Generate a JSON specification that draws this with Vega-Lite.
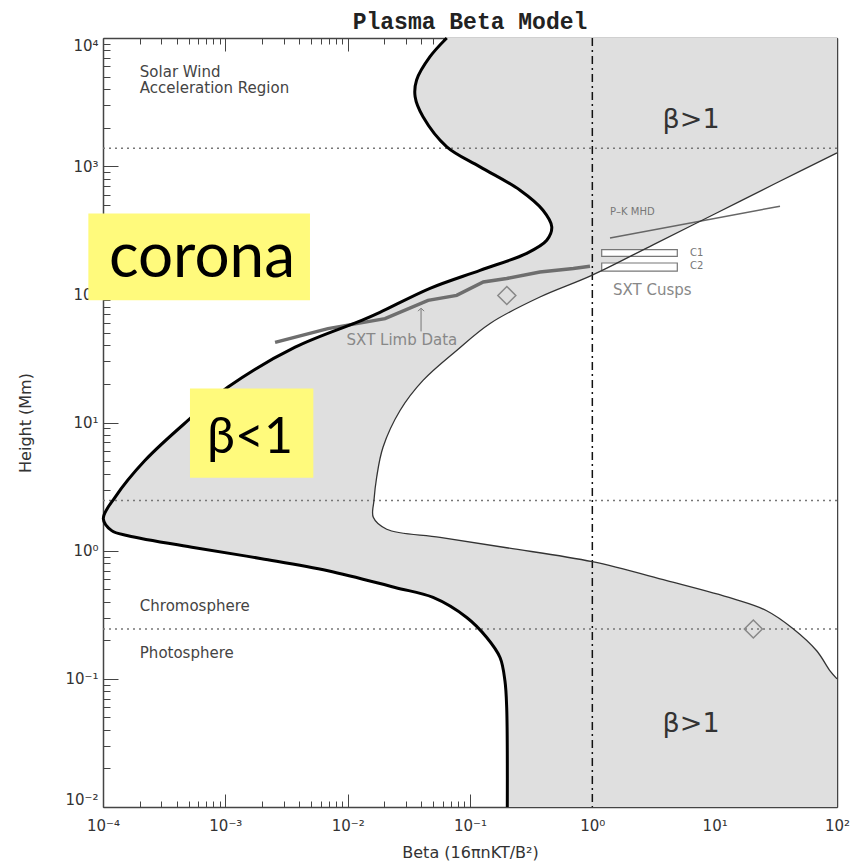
{
  "$schema": "https://vega.github.io/schema/vega-lite/v6.json",
  "width": 734,
  "height": 769,
  "autosize": "none",
  "padding": {"left": 103, "top": 38, "right": 20, "bottom": 54},
  "background": "white",
  "title": {"text": "Plasma Beta Model", "font": "Liberation Mono", "fontSize": 23, "fontWeight": "bold", "color": "#222", "offset": -2, "anchor": "middle"},
  "config": {
    "view": {"stroke": null},
    "axis": {"domain": false, "grid": false, "tickColor": "#444", "tickWidth": 1, "labelFont": "DejaVu Sans", "labelFontSize": 15, "labelColor": "#333", "titleFont": "DejaVu Sans", "titleFontSize": 16, "titleColor": "#333", "titleFontWeight": "normal", "zindex": 1, "labelFlush": false, "labelOverlap": false}
  },
  "datasets": {
    "thick": [
      {"h": 10000, "b": 0.0646}, {"h": 7145, "b": 0.0471}, {"h": 4696, "b": 0.0366}, {"h": 3475, "b": 0.0356},
      {"h": 2427, "b": 0.0413}, {"h": 1416, "b": 0.0646}, {"h": 988, "b": 0.1208}, {"h": 649, "b": 0.2565},
      {"h": 453, "b": 0.395}, {"h": 336, "b": 0.466}, {"h": 264, "b": 0.424}, {"h": 209, "b": 0.291},
      {"h": 154, "b": 0.1208}, {"h": 111.4, "b": 0.0471}, {"h": 72.3, "b": 0.01836}, {"h": 62.6, "b": 0.01303},
      {"h": 38.7, "b": 0.00372}, {"h": 18.9, "b": 0.001052}, {"h": 10.37, "b": 0.000495}, {"h": 5.05, "b": 0.00022},
      {"h": 2.609, "b": 0.0001254}, {"h": 1.778, "b": 0.0001006}, {"h": 1.433, "b": 0.0001178}, {"h": 1.309, "b": 0.00016},
      {"h": 1.054, "b": 0.000565}, {"h": 0.866, "b": 0.00198}, {"h": 0.698, "b": 0.0069}, {"h": 0.516, "b": 0.0244},
      {"h": 0.4316, "b": 0.0499}, {"h": 0.301, "b": 0.094}, {"h": 0.21, "b": 0.137}, {"h": 0.1466, "b": 0.176},
      {"h": 0.0965, "b": 0.193}, {"h": 0.0597, "b": 0.1995}, {"h": 0.01, "b": 0.2018}
    ],
    "thin": [
      {"h": 1270, "b": 100}, {"h": 736, "b": 31.6}, {"h": 423.6, "b": 10}, {"h": 244.5, "b": 3.162},
      {"h": 140.6, "b": 0.989}, {"h": 95.3, "b": 0.373}, {"h": 59.3, "b": 0.146}, {"h": 36.5, "b": 0.0778},
      {"h": 21.3, "b": 0.0413}, {"h": 12.4, "b": 0.0268}, {"h": 6.41, "b": 0.01945}, {"h": 3.74, "b": 0.01726},
      {"h": 2.46, "b": 0.0164}, {"h": 1.82, "b": 0.0162}, {"h": 1.47, "b": 0.02085}, {"h": 1.27, "b": 0.0569},
      {"h": 1.054, "b": 0.1995}, {"h": 0.82, "b": 1.0}, {"h": 0.583, "b": 4.06}, {"h": 0.4217, "b": 14.1},
      {"h": 0.34, "b": 26.6}, {"h": 0.246, "b": 43.8}, {"h": 0.1656, "b": 68.2}, {"h": 0.1155, "b": 87.7},
      {"h": 0.1, "b": 100}
    ],
    "limb": [
      {"b": 0.00255, "h": 42.2}, {"b": 0.0069, "h": 54.0}, {"b": 0.0202, "h": 64.6}, {"b": 0.0454, "h": 89.8},
      {"b": 0.0778, "h": 98.1}, {"b": 0.1285, "h": 124.8}, {"b": 0.1995, "h": 132.8}, {"b": 0.373, "h": 149.2},
      {"b": 0.7, "h": 158.9}, {"b": 0.957, "h": 165.5}
    ]
  },
  "resolve": {"axis": {"x": "independent", "y": "independent"}},
  "layer": [
    {
      "data": {"name": "thick"},
      "mark": {"type": "area", "orient": "horizontal", "interpolate": "catmull-rom", "fill": "#dfdfdf"},
      "encoding": {
        "x": {"field": "b", "type": "quantitative", "scale": {"type": "log", "domain": [0.0001, 100], "nice": false},
          "axis": {"orient": "bottom", "values": [0.0001, 0.001, 0.01, 0.1, 1, 10, 100], "tickSize": -13, "labelPadding": 24,
            "labelExpr": "'10' + (datum.value < 0.999 ? '⁻' : '') + ['⁰','¹','²','³','⁴'][abs(round(log(datum.value)/LN10))]",
            "title": "Beta (16πnKT/B²)", "titlePadding": 11, "domain": true, "domainColor": "#444", "domainWidth": 1.5}},
        "x2": {"datum": 100},
        "y": {"field": "h", "type": "quantitative", "scale": {"type": "log", "domain": [0.01, 10000], "nice": false},
          "axis": {"orient": "left", "values": [0.01, 0.1, 1, 10, 100, 1000, 10000], "tickSize": -15, "labelPadding": 20, "labelFlush": true,
            "labelExpr": "'10' + (datum.value < 0.999 ? '⁻' : '') + ['⁰','¹','²','³','⁴'][abs(round(log(datum.value)/LN10))]",
            "title": "Height (Mm)", "titlePadding": 31, "domain": true, "domainColor": "#444", "domainWidth": 1.5}}
      }
    },
    {
      "data": {"name": "thin"},
      "mark": {"type": "area", "orient": "horizontal", "interpolate": "catmull-rom", "fill": "white"},
      "encoding": {
        "x": {"field": "b", "type": "quantitative", "scale": {"type": "log", "domain": [0.0001, 100], "nice": false},
          "axis": {"orient": "bottom", "values": [0.0002,0.0003,0.0004,0.0005,0.0006,0.0007,0.0008,0.0009,0.002,0.003,0.004,0.005,0.006,0.007,0.008,0.009,0.02,0.03,0.04,0.05,0.06,0.07,0.08,0.09,0.2,0.3,0.4,0.5,0.6,0.7,0.8,0.9,2,3,4,5,6,7,8,9,20,30,40,50,60,70,80,90],
            "tickSize": -6, "labels": false, "title": null}},
        "x2": {"datum": 100},
        "y": {"field": "h", "type": "quantitative", "scale": {"type": "log", "domain": [0.01, 10000], "nice": false},
          "axis": {"orient": "left", "values": [0.02,0.03,0.04,0.05,0.06,0.07,0.08,0.09,0.2,0.3,0.4,0.5,0.6,0.7,0.8,0.9,2,3,4,5,6,7,8,9,20,30,40,50,60,70,80,90,200,300,400,500,600,700,800,900,2000,3000,4000,5000,6000,7000,8000,9000],
            "tickSize": -7, "labels": false, "title": null}}
      }
    },
    {
      "data": {"values": [{"h": 1380}, {"h": 2.46}, {"h": 0.245}]},
      "mark": {"type": "rule", "stroke": "#777", "strokeWidth": 1.5, "strokeDash": [2, 4]},
      "encoding": {"y": {"field": "h", "type": "quantitative", "scale": {"type": "log", "domain": [0.01, 10000], "nice": false}, "axis": null}}
    },
    {
      "data": {"values": [{"b": 1}]},
      "mark": {"type": "rule", "stroke": "#111", "strokeWidth": 1.5, "strokeDash": [8, 4, 2, 4]},
      "encoding": {"x": {"field": "b", "type": "quantitative", "scale": {"type": "log", "domain": [0.0001, 100], "nice": false}, "axis": null}}
    },
    {
      "data": {"values": [{"name": "C1", "b": 1.193, "b2": 4.95, "h": 223.5, "h2": 198}, {"name": "C2", "b": 1.193, "b2": 4.95, "h": 175.6, "h2": 152}]},
      "mark": {"type": "rect", "fill": "white", "stroke": "#777", "strokeWidth": 1.2},
      "encoding": {
        "x": {"field": "b", "type": "quantitative", "scale": {"type": "log", "domain": [0.0001, 100], "nice": false}, "axis": null},
        "x2": {"field": "b2"},
        "y": {"field": "h", "type": "quantitative", "scale": {"type": "log", "domain": [0.01, 10000], "nice": false}, "axis": null},
        "y2": {"field": "h2"}
      }
    },
    {
      "data": {"name": "limb"},
      "mark": {"type": "line", "stroke": "#6e6e6e", "strokeWidth": 3.5},
      "encoding": {
        "x": {"field": "b", "type": "quantitative", "scale": {"type": "log", "domain": [0.0001, 100], "nice": false}, "axis": null},
        "y": {"field": "h", "type": "quantitative", "scale": {"type": "log", "domain": [0.01, 10000], "nice": false}, "axis": null}
      }
    },
    {
      "data": {"values": [{"b": 1.395, "h": 275.5}, {"b": 34.2, "h": 487}]},
      "mark": {"type": "line", "stroke": "#666", "strokeWidth": 1.5},
      "encoding": {
        "x": {"field": "b", "type": "quantitative", "scale": {"type": "log", "domain": [0.0001, 100], "nice": false}, "axis": null},
        "y": {"field": "h", "type": "quantitative", "scale": {"type": "log", "domain": [0.01, 10000], "nice": false}, "axis": null}
      }
    },
    {
      "data": {"name": "thin"},
      "mark": {"type": "line", "stroke": "#333", "strokeWidth": 1.3, "interpolate": "catmull-rom"},
      "encoding": {
        "x": {"field": "b", "type": "quantitative", "scale": {"type": "log", "domain": [0.0001, 100], "nice": false},
          "axis": {"orient": "top", "values": [0.0001, 0.001, 0.01, 0.1, 1, 10, 100], "tickSize": -13, "labels": false, "title": null, "domain": true, "domainColor": "#444", "domainWidth": 1.5}},
        "y": {"field": "h", "type": "quantitative", "scale": {"type": "log", "domain": [0.01, 10000], "nice": false},
          "axis": {"orient": "right", "values": [0.01, 0.1, 1, 10, 100, 1000, 10000], "tickSize": -15, "labels": false, "title": null, "domain": true, "domainColor": "#444", "domainWidth": 1.5}},
        "order": {"field": "h", "type": "quantitative"}
      }
    },
    {
      "data": {"name": "thick"},
      "mark": {"type": "line", "stroke": "#000", "strokeWidth": 3, "interpolate": "catmull-rom"},
      "encoding": {
        "x": {"field": "b", "type": "quantitative", "scale": {"type": "log", "domain": [0.0001, 100], "nice": false},
          "axis": {"orient": "top", "values": [0.0002,0.0003,0.0004,0.0005,0.0006,0.0007,0.0008,0.0009,0.002,0.003,0.004,0.005,0.006,0.007,0.008,0.009,0.02,0.03,0.04,0.05,0.06,0.07,0.08,0.09,0.2,0.3,0.4,0.5,0.6,0.7,0.8,0.9,2,3,4,5,6,7,8,9,20,30,40,50,60,70,80,90],
            "tickSize": -6, "labels": false, "title": null}},
        "y": {"field": "h", "type": "quantitative", "scale": {"type": "log", "domain": [0.01, 10000], "nice": false},
          "axis": {"orient": "right", "values": [0.02,0.03,0.04,0.05,0.06,0.07,0.08,0.09,0.2,0.3,0.4,0.5,0.6,0.7,0.8,0.9,2,3,4,5,6,7,8,9,20,30,40,50,60,70,80,90,200,300,400,500,600,700,800,900,2000,3000,4000,5000,6000,7000,8000,9000],
            "tickSize": -7, "labels": false, "title": null}},
        "order": {"field": "h", "type": "quantitative"}
      }
    },
    {
      "data": {"values": [{"b": 0.2, "h": 98}, {"b": 20.7, "h": 0.245}]},
      "mark": {"type": "point", "shape": "diamond", "size": 324, "stroke": "#888", "strokeWidth": 1.5, "filled": false, "opacity": 1},
      "encoding": {
        "x": {"field": "b", "type": "quantitative", "scale": {"type": "log", "domain": [0.0001, 100], "nice": false}, "axis": null},
        "y": {"field": "h", "type": "quantitative", "scale": {"type": "log", "domain": [0.01, 10000], "nice": false}, "axis": null}
      }
    },
    {
      "data": {"values": [{"b": 0.0398, "h": 51.4, "h2": 77}]},
      "mark": {"type": "rule", "stroke": "#777", "strokeWidth": 1},
      "encoding": {
        "x": {"field": "b", "type": "quantitative", "scale": {"type": "log", "domain": [0.0001, 100], "nice": false}, "axis": null},
        "y": {"field": "h", "type": "quantitative", "scale": {"type": "log", "domain": [0.01, 10000], "nice": false}, "axis": null},
        "y2": {"field": "h2"}
      }
    },
    {
      "data": {"values": [{"b": 0.0398, "h": 78}]},
      "mark": {"type": "point", "shape": "M-1,1L0,0L1,1", "size": 36, "stroke": "#777", "strokeWidth": 1, "filled": false, "opacity": 1},
      "encoding": {
        "x": {"field": "b", "type": "quantitative", "scale": {"type": "log", "domain": [0.0001, 100], "nice": false}, "axis": null},
        "y": {"field": "h", "type": "quantitative", "scale": {"type": "log", "domain": [0.01, 10000], "nice": false}, "axis": null}
      }
    },
    {
      "data": {"values": [
        {"t": "Solar Wind", "b": 0.0002, "h": 5455},
        {"t": "Acceleration Region", "b": 0.0002, "h": 4045},
        {"t": "Chromosphere", "b": 0.0002, "h": 0.3715},
        {"t": "Photosphere", "b": 0.0002, "h": 0.16}
      ]},
      "mark": {"type": "text", "align": "left", "baseline": "middle", "font": "DejaVu Sans", "fontSize": 15, "fill": "#444"},
      "encoding": {
        "x": {"field": "b", "type": "quantitative", "scale": {"type": "log", "domain": [0.0001, 100], "nice": false}, "axis": null},
        "y": {"field": "h", "type": "quantitative", "scale": {"type": "log", "domain": [0.01, 10000], "nice": false}, "axis": null},
        "text": {"field": "t"}
      }
    },
    {
      "data": {"values": [
        {"t": "SXT Limb Data", "b": 0.0098, "h": 43.7},
        {"t": "SXT Cusps", "b": 1.476, "h": 109}
      ]},
      "mark": {"type": "text", "align": "left", "baseline": "middle", "font": "DejaVu Sans", "fontSize": 15, "fill": "#888"},
      "encoding": {
        "x": {"field": "b", "type": "quantitative", "scale": {"type": "log", "domain": [0.0001, 100], "nice": false}, "axis": null},
        "y": {"field": "h", "type": "quantitative", "scale": {"type": "log", "domain": [0.01, 10000], "nice": false}, "axis": null},
        "text": {"field": "t"}
      }
    },
    {
      "data": {"values": [
        {"t": "P–K MHD", "b": 1.395, "h": 439},
        {"t": "C1", "b": 6.28, "h": 210},
        {"t": "C2", "b": 6.28, "h": 165.5}
      ]},
      "mark": {"type": "text", "align": "left", "baseline": "middle", "font": "DejaVu Sans", "fontSize": 10, "fill": "#777"},
      "encoding": {
        "x": {"field": "b", "type": "quantitative", "scale": {"type": "log", "domain": [0.0001, 100], "nice": false}, "axis": null},
        "y": {"field": "h", "type": "quantitative", "scale": {"type": "log", "domain": [0.01, 10000], "nice": false}, "axis": null},
        "text": {"field": "t"}
      }
    },
    {
      "data": {"values": [{"t": "β>1", "b": 6.41, "h": 2288}, {"t": "β>1", "b": 6.41, "h": 0.0445}]},
      "mark": {"type": "text", "align": "center", "baseline": "middle", "font": "DejaVu Sans", "fontSize": 27, "fill": "#333"},
      "encoding": {
        "x": {"field": "b", "type": "quantitative", "scale": {"type": "log", "domain": [0.0001, 100], "nice": false}, "axis": null},
        "y": {"field": "h", "type": "quantitative", "scale": {"type": "log", "domain": [0.01, 10000], "nice": false}, "axis": null},
        "text": {"field": "t"}
      }
    },
    {
      "data": {"values": [{"b": 0.0000759, "b2": 0.00492, "h": 426.6, "h2": 89.8}, {"b": 0.000514, "b2": 0.00524, "h": 18.4, "h2": 3.71}]},
      "mark": {"type": "rect", "fill": "#fffa7c"},
      "encoding": {
        "x": {"field": "b", "type": "quantitative", "scale": {"type": "log", "domain": [0.0001, 100], "nice": false}, "axis": null},
        "x2": {"field": "b2"},
        "y": {"field": "h", "type": "quantitative", "scale": {"type": "log", "domain": [0.01, 10000], "nice": false}, "axis": null},
        "y2": {"field": "h2"}
      }
    },
    {
      "data": {"values": [{"t": "corona", "b": 0.000644, "h": 135.8}]},
      "mark": {"type": "text", "align": "center", "baseline": "alphabetic", "font": "Lato", "fontSize": 62, "fill": "#000"},
      "encoding": {
        "x": {"field": "b", "type": "quantitative", "scale": {"type": "log", "domain": [0.0001, 100], "nice": false}, "axis": null},
        "y": {"field": "h", "type": "quantitative", "scale": {"type": "log", "domain": [0.01, 10000], "nice": false}, "axis": null},
        "text": {"field": "t"}
      }
    },
    {
      "data": {"values": [{"t": "β<1", "b": 0.00159, "h": 5.75}]},
      "mark": {"type": "text", "align": "center", "baseline": "alphabetic", "font": "Lato", "fontSize": 50, "fill": "#000"},
      "encoding": {
        "x": {"field": "b", "type": "quantitative", "scale": {"type": "log", "domain": [0.0001, 100], "nice": false}, "axis": null},
        "y": {"field": "h", "type": "quantitative", "scale": {"type": "log", "domain": [0.01, 10000], "nice": false}, "axis": null},
        "text": {"field": "t"}
      }
    }
  ]
}
